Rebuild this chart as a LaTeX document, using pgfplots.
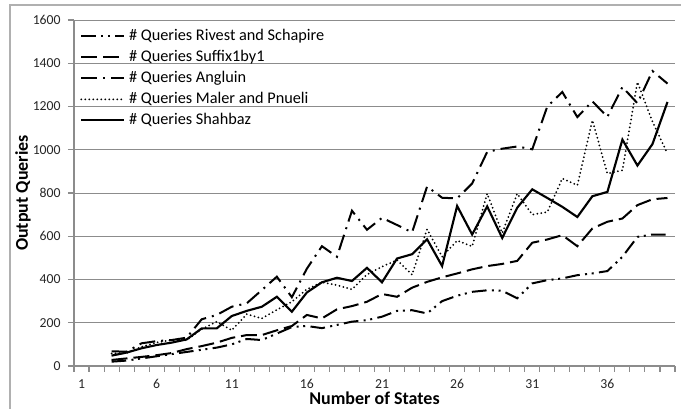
\documentclass[border=0pt]{standalone}
\usepackage{pgfplots}
\pgfplotsset{compat=1.18}
\usepackage{pgfplotstable}
\usepackage{fontspec}
\setmainfont{Carlito}
\definecolor{gridgray}{HTML}{8C8C8C}
\definecolor{framegray}{HTML}{B0B0B0}
% i  rivest suffix angluin maler shahbaz
\pgfplotstableread{
i r s a m h
3 20 28 68 58 48
4 25 35 66 60 62
5 35 42 105 89 82
6 45 50 115 109 97
7 55 60 120 120 108
8 65 78 131 120 123
9 75 92 216 170 174
10 85 108 236 205 174
11 100 130 274 165 231
12 125 143 290 240 255
13 120 143 351 220 274
14 150 165 413 260 320
15 180 185 318 297 251
16 185 236 450 355 340
17 175 220 554 387 387
18 190 262 505 374 408
19 205 277 718 354 393
20 212 297 630 423 454
21 228 333 685 459 387
22 255 320 652 490 497
23 258 362 618 422 517
24 243 389 830 632 586
25 300 410 778 505 462
26 325 428 775 580 740
27 343 447 844 553 608
28 350 462 990 797 738
29 348 472 1005 615 592
30 313 486 1015 797 732
31 382 570 1002 700 817
32 397 585 1200 712 777
33 405 605 1267 867 736
34 420 554 1151 836 689
35 428 636 1224 1136 785
36 439 667 1152 890 805
37 505 682 1290 905 1047
38 597 744 1215 1313 927
39 608 771 1364 1130 1026
40 608 777 1306 982 1221
}\data
\begin{document}
\begin{tikzpicture}
\useasboundingbox (-55.5pt,-32.25pt) rectangle (455.25pt,274.5pt);
\draw[framegray, line width=1.2pt] (-48pt,-60pt) -- (-48pt,270.75pt) -- (480pt,270.75pt);
\begin{axis}[
  at={(0,0)}, anchor=south west,
  scale only axis, width=450.75pt, height=259.5pt,
  xmin=0.5, xmax=40.5, ymin=0, ymax=1600,
  axis lines*=left,
  axis line style={gridgray, line width=0.8pt},
  tick align=outside,
  tick style={gridgray, line width=0.8pt},
  major tick length=4.5pt,
  xtick={0.5,1.5,...,40.5}, xticklabels={},
  extra x ticks={1,6,11,16,21,26,31,36},
  extra x tick labels={1,6,11,16,21,26,31,36},
  extra x tick style={major tick length=0pt, tick style={draw=none}},
  ytick={0,200,...,1600},
  ymajorgrids, grid style={gridgray, line width=0.6pt},
  /pgf/number format/assume math mode=true,
  /pgf/number format/1000 sep={},
  ticklabel style={font=\fontsize{10.3}{12}\selectfont, text=black!85},
  xticklabel style={yshift=-6.5pt},
  yticklabel style={xshift=-2pt},
  xlabel={Number of States}, ylabel={Output Queries},
  xlabel style={font=\fontsize{13.5}{15}\selectfont\bfseries, at={(axis description cs:0.5,0)}, anchor=center, yshift=-24pt},
  ylabel style={font=\fontsize{13.5}{15}\selectfont\bfseries, at={(axis description cs:0,0.5)}, anchor=center, yshift=38.25pt},
  legend cell align=left,
  legend style={at={(axis description cs:0,1)}, anchor=north west, xshift=4.5pt, yshift=-6.2pt,
    draw=none, fill=none, inner sep=0pt, row sep=4pt, column sep=3pt,
    font=\fontsize{12.2}{14}\selectfont,
    nodes={inner sep=0pt, text height=9pt, text depth=2.75pt}},
  legend image code/.code={\draw[#1] (0pt,0pt) -- (32pt,0pt);},
  every axis plot/.append style={black, line width=1.5pt},
]
\addplot[dash pattern=on 11pt off 4pt on 1.5pt off 3.5pt on 1.5pt off 4pt] table[x=i,y=r] {\data};
\addlegendentry{\# Queries Rivest and Schapire}
\addplot[dash pattern=on 12pt off 4.5pt] table[x=i,y=s] {\data};
\addlegendentry{\# Queries Suffix1by1}
\addplot[dash pattern=on 12pt off 4.5pt on 1.5pt off 4.5pt] table[x=i,y=a] {\data};
\addlegendentry{\# Queries Angluin}
\addplot[line cap=round, dash pattern=on 0pt off 3pt] table[x=i,y=m] {\data};
\addlegendentry{\# Queries Maler and Pnueli}
\addplot[line width=1.6pt] table[x=i,y=h] {\data};
\addlegendentry{\# Queries Shahbaz}
\end{axis}
\end{tikzpicture}
\end{document}
